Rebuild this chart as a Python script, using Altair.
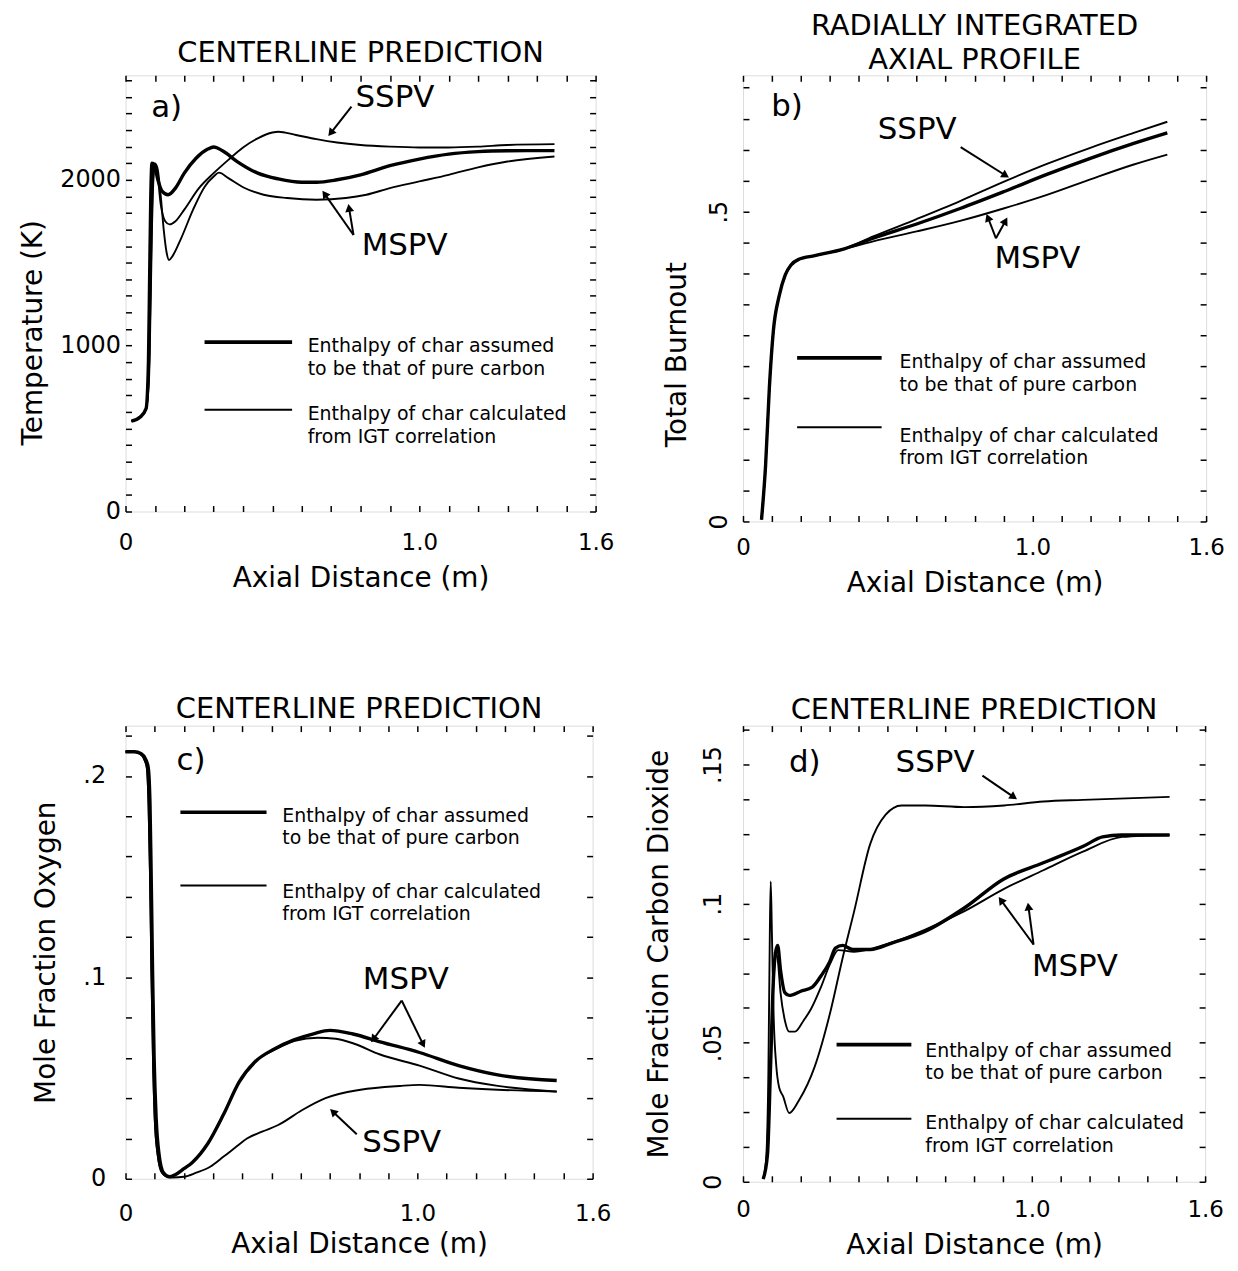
import math
import altair as alt
import pandas as pd

FONT = "DejaVu Sans"

# ---------------- shared axis ticks ----------------
X_TICKS = [0, 0.1, 0.2, 0.3, 0.4, 0.5, 0.6, 0.7, 0.8, 0.9, 1.0, 1.1, 1.2, 1.3, 1.4, 1.5, 1.6]
X_TICK_LABELS = [(0, "0"), (1.0, "1.0"), (1.6, "1.6")]

# ---------------- panel a : centerline temperature ----------------
A_Y_TICKS = list(range(0, 2700, 100))
A_Y_TICK_LABELS = [(0, "0"), (1000, "1000"), (2000, "2000")]
A_X_SSPV = [0.02, 0.05, 0.07, 0.08, 0.085, 0.09, 0.095, 0.10, 0.107, 0.12, 0.135, 0.15, 0.17, 0.20, 0.25,
            0.30, 0.35, 0.40, 0.45, 0.50, 0.52, 0.58, 0.65, 0.72, 0.80, 0.90, 1.00, 1.10, 1.20, 1.30, 1.46]
A_Y_SSPV = [545, 570, 620, 850, 1300, 1800, 2050, 2100, 2060, 1850, 1750, 1731, 1750, 1820, 1950,
            2040, 2120, 2195, 2250, 2285, 2290, 2270, 2245, 2225, 2210, 2200, 2195, 2195, 2200, 2210, 2215]
A_X_MSPV1 = [0.02, 0.05, 0.07, 0.078, 0.082, 0.086, 0.09, 0.098, 0.11, 0.125, 0.145, 0.17, 0.20, 0.24, 0.28,
             0.30, 0.33, 0.38, 0.45, 0.52, 0.60, 0.65, 0.72, 0.80, 0.90, 1.00, 1.10, 1.20, 1.30, 1.46]
A_Y_MSPV1 = [545, 570, 620, 900, 1400, 1900, 2100, 2090, 2000, 1930, 1910, 1950, 2040, 2130, 2185,
             2198, 2175, 2110, 2040, 2005, 1985, 1985, 2000, 2030, 2085, 2125, 2155, 2170, 2175, 2176]
A_X_MSPV2 = [0.02, 0.05, 0.07, 0.08, 0.085, 0.09, 0.095, 0.102, 0.11, 0.12, 0.13, 0.14, 0.148, 0.16, 0.19, 0.23,
             0.27, 0.30, 0.318, 0.35, 0.40, 0.47, 0.55, 0.65, 0.75, 0.82, 0.90, 1.00, 1.10, 1.20, 1.30, 1.46]
A_Y_MSPV2 = [545, 570, 620, 800, 1200, 1700, 2000, 2095, 2060, 1900, 1700, 1560, 1516, 1540, 1650, 1820,
             1960, 2020, 2043, 2010, 1955, 1910, 1890, 1880, 1890, 1910, 1950, 1990, 2030, 2075, 2110, 2140]

# ---------------- panel b : total burnout ----------------
B_Y_TICKS = [0, 0.05, 0.1, 0.15, 0.2, 0.25, 0.3, 0.35, 0.4, 0.45, 0.5, 0.55, 0.6, 0.65, 0.7]
B_Y_TICK_LABELS = [(0, "0"), (0.5, ".5")]
B_X = [0.064, 0.078, 0.091, 0.105, 0.125, 0.146, 0.166, 0.193, 0.248, 0.35, 0.45, 0.60, 0.75, 0.90,
       1.05, 1.20, 1.35, 1.466]
B_Y_SSPV = [0.003, 0.09, 0.215, 0.308, 0.364, 0.398, 0.414, 0.423, 0.429, 0.440, 0.460, 0.488, 0.517,
            0.548, 0.577, 0.603, 0.627, 0.645]
B_Y_MSPV1 = [0.003, 0.09, 0.215, 0.308, 0.364, 0.398, 0.414, 0.423, 0.429, 0.440, 0.457, 0.480, 0.505,
             0.532, 0.560, 0.586, 0.610, 0.627]
B_Y_MSPV2 = [0.003, 0.09, 0.215, 0.308, 0.364, 0.398, 0.414, 0.423, 0.429, 0.440, 0.452, 0.468, 0.485,
             0.505, 0.527, 0.552, 0.576, 0.592]

# ---------------- panel c : mole fraction oxygen ----------------
C_Y_TICKS = [0, 0.02, 0.04, 0.06, 0.08, 0.1, 0.12, 0.14, 0.16, 0.18, 0.2, 0.22]
C_Y_TICK_LABELS = [(0, "0"), (0.1, ".1"), (0.2, ".2")]
C_X_MSPV1 = [0.0, 0.03, 0.054, 0.07, 0.078, 0.084, 0.088, 0.093, 0.098, 0.105, 0.115, 0.13, 0.15, 0.17, 0.20,
             0.228, 0.282, 0.336, 0.389, 0.443, 0.51, 0.577, 0.644, 0.70, 0.779, 0.872, 1.007, 1.141, 1.275, 1.477]
C_Y_MSPV1 = [0.212, 0.212, 0.211, 0.208, 0.204, 0.185, 0.15, 0.10, 0.06, 0.03, 0.012, 0.003, 0.001, 0.002, 0.005,
             0.008, 0.0175, 0.032, 0.048, 0.058, 0.0645, 0.069, 0.072, 0.0737, 0.0719, 0.068, 0.0627, 0.0562,
             0.0516, 0.0488]
C_X_MSPV2 = [0.0, 0.03, 0.05, 0.065, 0.073, 0.079, 0.084, 0.089, 0.094, 0.10, 0.11, 0.125, 0.145, 0.17, 0.20,
             0.228, 0.282, 0.336, 0.389, 0.443, 0.51, 0.58, 0.658, 0.72, 0.779, 0.872, 1.007, 1.141, 1.275, 1.477]
C_Y_MSPV2 = [0.212, 0.212, 0.211, 0.208, 0.204, 0.185, 0.15, 0.10, 0.06, 0.03, 0.012, 0.003, 0.001, 0.002, 0.005,
             0.008, 0.0175, 0.032, 0.048, 0.058, 0.0640, 0.0685, 0.070, 0.0695, 0.0673, 0.0617, 0.0562, 0.0498,
             0.0461, 0.0433]
C_X_SSPV = [0.0, 0.03, 0.05, 0.065, 0.073, 0.079, 0.084, 0.089, 0.094, 0.10, 0.11, 0.125, 0.145, 0.161, 0.20,
            0.242, 0.29, 0.336, 0.38, 0.416, 0.47, 0.523, 0.604, 0.685, 0.805, 0.94, 1.007, 1.141, 1.275, 1.477]
C_Y_SSPV = [0.212, 0.212, 0.211, 0.208, 0.204, 0.185, 0.15, 0.10, 0.06, 0.03, 0.012, 0.003, 0.001, 0.0006, 0.001,
            0.003, 0.006, 0.011, 0.016, 0.020, 0.0235, 0.0267, 0.034, 0.040, 0.0442, 0.0461, 0.0466, 0.0452,
            0.0442, 0.0433]

# ---------------- panel d : mole fraction carbon dioxide ----------------
D_Y_TICKS = [0, 0.0125, 0.025, 0.0375, 0.05, 0.0625, 0.075, 0.0875, 0.1, 0.1125, 0.125, 0.1375, 0.15, 0.1625]
D_Y_TICK_LABELS = [(0, "0"), (0.05, ".05"), (0.1, ".1"), (0.15, ".15")]
D_X_SSPV = [0.07, 0.08, 0.088, 0.093, 0.096, 0.10, 0.106, 0.115, 0.125, 0.139, 0.16, 0.194, 0.248, 0.303,
            0.344, 0.385, 0.44, 0.494, 0.549, 0.631, 0.767, 0.904, 1.04, 1.177, 1.477]
D_Y_SSPV = [0.001, 0.008, 0.04, 0.09, 0.108, 0.09, 0.06, 0.042, 0.034, 0.0307, 0.0247, 0.0293, 0.0413, 0.0613,
            0.080, 0.0973, 0.1213, 0.132, 0.1353, 0.1353, 0.1347, 0.1353, 0.1367, 0.1373, 0.1384]
D_X_MSPV1 = [0.07, 0.085, 0.095, 0.105, 0.112, 0.12, 0.13, 0.145, 0.16, 0.20, 0.24, 0.27, 0.30, 0.32, 0.345,
             0.38, 0.44, 0.52, 0.63, 0.77, 0.90, 1.04, 1.18, 1.245, 1.31, 1.477]
D_Y_MSPV1 = [0.001, 0.01, 0.04, 0.072, 0.082, 0.085, 0.076, 0.068, 0.067, 0.0685, 0.070, 0.074, 0.079, 0.084,
             0.085, 0.0835, 0.0835, 0.086, 0.090, 0.0987, 0.1087, 0.1147, 0.1207, 0.124, 0.1247, 0.1247]
D_X_MSPV2 = [0.07, 0.085, 0.095, 0.105, 0.115, 0.12, 0.13, 0.145, 0.16, 0.18, 0.21, 0.235, 0.27, 0.303, 0.33,
             0.385, 0.494, 0.631, 0.767, 0.904, 1.04, 1.177, 1.313, 1.477]
D_Y_MSPV2 = [0.001, 0.01, 0.04, 0.07, 0.082, 0.08, 0.068, 0.058, 0.054, 0.054, 0.058, 0.062, 0.070, 0.0787,
             0.0833, 0.0827, 0.0853, 0.0907, 0.0973, 0.1053, 0.112, 0.1187, 0.124, 0.1247]

LEG1 = "Enthalpy of char assumed\nto be that of pure carbon"
LEG2 = "Enthalpy of char calculated\nfrom IGT correlation"

# ---------------- panel layout / annotation specs ----------------
PANELS = {
    "a": dict(W=472, H=438, ytop=2630, yticks=A_Y_TICKS, ylabels=A_Y_TICK_LABELS, ytitle="Temperature (K)",
              title="CENTERLINE PREDICTION", ylab_angle=0, ylab_pad=5, ytitle_pad=12, ytitle_y=258,
              xlab_pad=20, xtitle_pad=10,
              thick=[("m1", A_X_MSPV1, A_Y_MSPV1)],
              thin=[("s", A_X_SSPV, A_Y_SSPV), ("m2", A_X_MSPV2, A_Y_MSPV2)],
              labels=[(0.14, 2430, "a)"), (0.917, 2495, "SSPV"), (0.95, 1600, "MSPV")],
              arrows=[(0.769, 2441, 0.688, 2258), (0.776, 1667, 0.668, 1940), (0.776, 1667, 0.758, 1860)],
              leg=dict(x1=0.269, x2=0.567, ly1=1021, ly2=613, tx=0.620, t1=1000, t2=591)),
    "b": dict(W=465, H=448, ytop=0.72, yticks=B_Y_TICKS, ylabels=B_Y_TICK_LABELS, ytitle="Total Burnout",
              title=["RADIALLY INTEGRATED", "AXIAL PROFILE"], ylab_angle=270, ylab_pad=12, ytitle_pad=16,
              ytitle_y=280, xlab_pad=15, xtitle_pad=10,
              thick=[("m1", B_X, B_Y_MSPV1)],
              thin=[("s", B_X, B_Y_SSPV), ("m2", B_X, B_Y_MSPV2)],
              labels=[(0.152, 0.669, "b)"), (0.602, 0.632, "SSPV"), (1.017, 0.423, "MSPV")],
              arrows=[(0.752, 0.604, 0.922, 0.554), (0.874, 0.457, 0.84, 0.498), (0.874, 0.457, 0.915, 0.492)],
              leg=dict(x1=0.187, x2=0.479, ly1=0.264, ly2=0.152, tx=0.541, t1=0.258, t2=0.14)),
    "c": dict(W=469, H=455, ytop=0.225, yticks=C_Y_TICKS, ylabels=C_Y_TICK_LABELS, ytitle="Mole Fraction Oxygen",
              title="CENTERLINE PREDICTION", ylab_angle=0, ylab_pad=20, ytitle_pad=22, ytitle_y=None,
              xlab_pad=24, xtitle_pad=5,
              thick=[("m1", C_X_MSPV1, C_Y_MSPV1)],
              thin=[("s", C_X_SSPV, C_Y_SSPV), ("m2", C_X_MSPV2, C_Y_MSPV2)],
              labels=[(0.224, 0.2074, "c)"), (0.96, 0.0986, "MSPV"), (0.946, 0.0175, "SSPV")],
              arrows=[(0.946, 0.0885, 0.839, 0.0673), (0.946, 0.0885, 1.027, 0.0645),
                      (0.792, 0.0221, 0.698, 0.035)],
              leg=dict(x1=0.188, x2=0.483, ly1=0.182, ly2=0.1456, tx=0.537, t1=0.1806, t2=0.1429)),
    "d": dict(W=464, H=458, ytop=0.164, yticks=D_Y_TICKS, ylabels=D_Y_TICK_LABELS,
              ytitle="Mole Fraction Carbon Dioxide",
              title="CENTERLINE PREDICTION", ylab_angle=270, ylab_pad=18, ytitle_pad=28, ytitle_y=None,
              xlab_pad=17, xtitle_pad=10,
              thick=[("m1", D_X_MSPV1, D_Y_MSPV1)],
              thin=[("s", D_X_SSPV, D_Y_SSPV), ("m2", D_X_MSPV2, D_Y_MSPV2)],
              labels=[(0.214, 0.1507, "d)"), (0.665, 0.1507, "SSPV"), (1.149, 0.0773, "MSPV")],
              arrows=[(0.829, 0.146, 0.952, 0.1373), (1.006, 0.0853, 0.883, 0.1027),
                      (1.006, 0.0853, 0.986, 0.1007)],
              leg=dict(x1=0.324, x2=0.583, ly1=0.0493, ly2=0.0227, tx=0.631, t1=0.0473, t2=0.0213)),
}

TICK = 6
XMAX = 1.6
LEG_FS = 19
LEG_LH = 22.5
TITLE_FS = 29
TITLE_LH = 34


def label_expr(pairs):
    s = ""
    for v, t in pairs:
        s += f"abs(datum.value - {v}) < 1e-9 ? '{t}' : "
    return s + "''"


def axis_lab(orient, values, pairs, title, angle=0, lpad=4, tpad=10, lfs=24, title_y=None):
    kw = dict(orient=orient, values=values, tickSize=TICK, offset=-TICK, domain=False, grid=False,
              tickColor="black", tickWidth=1.5, labelExpr=label_expr(pairs), labelFont=FONT,
              labelFontSize=lfs, labelColor="black", labelOverlap=False, labelFlush=False,
              labelPadding=lpad, title=title, titleFont=FONT, titleFontSize=28, titleFontWeight="normal",
              titleColor="black", titlePadding=tpad)
    if angle:
        kw["labelAngle"] = angle
    if title_y is not None:
        kw["titleY"] = title_y
    return alt.Axis(**kw)


def axis_plain(orient, values):
    return alt.Axis(orient=orient, values=values, tickSize=TICK, offset=-TICK, domain=False, grid=False,
                    tickColor="black", tickWidth=1.5, labels=False, title=None)


def lines_df(series):
    rows = []
    for name, xs, ys in series:
        for i, (x, y) in enumerate(zip(xs, ys)):
            rows.append({"s": name, "i": i, "x": x, "y": y})
    return pd.DataFrame(rows)


def build(p):
    W, H, ytop = p["W"], p["H"], p["ytop"]
    xs = alt.Scale(domain=[0, XMAX], nice=False, zero=False)
    ys = alt.Scale(domain=[0, ytop], nice=False, zero=False)

    def XN(f="x"):
        return alt.X(f + ":Q", scale=xs, axis=None)

    def YN(f="y"):
        return alt.Y(f + ":Q", scale=ys, axis=None)

    thick = alt.Chart(lines_df(p["thick"])).mark_line(
        color="black", strokeWidth=3.4, interpolate="monotone").encode(
        x=alt.X("x:Q", scale=xs, axis=axis_lab("bottom", X_TICKS, X_TICK_LABELS, "Axial Distance (m)",
                                                lpad=p["xlab_pad"], tpad=p["xtitle_pad"], lfs=23)),
        y=alt.Y("y:Q", scale=ys, axis=axis_lab("left", p["yticks"], p["ylabels"], p["ytitle"],
                                                angle=p["ylab_angle"], lpad=p["ylab_pad"], tpad=p["ytitle_pad"],
                                                title_y=p["ytitle_y"])),
        detail="s:N", order="i:Q")
    thin = alt.Chart(lines_df(p["thin"])).mark_line(
        color="black", strokeWidth=1.9, interpolate="monotone").encode(
        x=alt.X("x:Q", scale=xs, axis=axis_plain("top", X_TICKS)),
        y=alt.Y("y:Q", scale=ys, axis=axis_plain("right", p["yticks"])),
        detail="s:N", order="i:Q")

    lab_df = pd.DataFrame([{"x": x, "y": y, "t": t} for x, y, t in p["labels"]])
    labels = alt.Chart(lab_df).mark_text(font=FONT, fontSize=31, color="black", align="center",
                                         baseline="middle").encode(x=XN(), y=YN(), text="t:N")

    # arrows: shaft + head
    rows, heads = [], []
    for x1, y1, x2, y2 in p["arrows"]:
        dx = (x2 - x1) / XMAX * W
        dy = -(y2 - y1) / ytop * H
        L = math.hypot(dx, dy)
        ux, uy = dx / L, dy / L
        back = 5.0
        hx = x2 - ux * back / W * XMAX
        hy = y2 + uy * back / H * ytop
        ang = math.degrees(math.atan2(dx, -dy)) % 360
        rows.append({"x": x1, "y": y1, "x2": hx, "y2": hy})
        heads.append({"x": hx, "y": hy, "a": ang})
    shafts = alt.Chart(pd.DataFrame(rows)).mark_rule(color="black", strokeWidth=2).encode(
        x=XN(), y=YN(), x2="x2:Q", y2="y2:Q")
    arrowheads = alt.Chart(pd.DataFrame(heads)).mark_point(
        shape="triangle-up", filled=True, color="black", opacity=1, size=80).encode(
        x=XN(), y=YN(), angle=alt.Angle("a:Q", scale=None))

    lg = p["leg"]
    leg_lines = alt.Chart(pd.DataFrame([
        {"x": lg["x1"], "x2": lg["x2"], "y": lg["ly1"], "w": 3.6},
        {"x": lg["x1"], "x2": lg["x2"], "y": lg["ly2"], "w": 2.0},
    ])).mark_rule(color="black").encode(x=XN(), x2="x2:Q", y=YN(),
                                        strokeWidth=alt.StrokeWidth("w:Q", scale=None))
    # first-line centre -> alphabetic baseline (shift down by ~0.36 em)
    shift = 0.36 * LEG_FS / H * ytop
    leg_txt = alt.Chart(pd.DataFrame([
        {"x": lg["tx"], "y": lg["t1"] - shift, "t": LEG1},
        {"x": lg["tx"], "y": lg["t2"] - shift, "t": LEG2},
    ])).mark_text(font=FONT, fontSize=LEG_FS, color="black", align="left", baseline="alphabetic",
                  lineBreak="\n", lineHeight=LEG_LH).encode(x=XN(), y=YN(), text="t:N")

    return alt.layer(thick, thin, labels, shafts, arrowheads, leg_lines, leg_txt).properties(
        width=W, height=H,
        title=alt.TitleParams(text=p["title"], font=FONT, fontSize=TITLE_FS, fontWeight="normal",
                              color="black", anchor="middle", offset=0, lineHeight=TITLE_LH),
    ).resolve_axis(x="independent", y="independent")


a = build(PANELS["a"])
b = build(PANELS["b"])
c = build(PANELS["c"])
d = build(PANELS["d"])

chart = alt.concat(a, b, c, d, columns=2, bounds="flush",
                   spacing={"row": 205, "column": 148}).configure_view(
    stroke="black", strokeWidth=2).configure(background="white",
                                            padding={"left": 11, "right": 5, "top": 0, "bottom": 0})

chart.save("out.html", embed_options={"renderer": "svg", "actions": False})
